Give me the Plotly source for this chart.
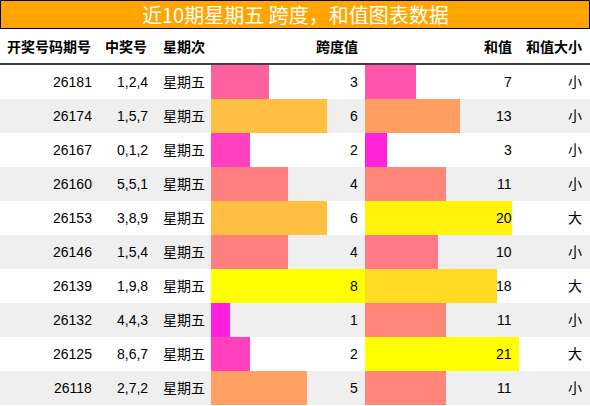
import plotly.graph_objects as go

periods = ["26181", "26174", "26167", "26160", "26153", "26146", "26139", "26132", "26125", "26118"]
numbers = ["1,2,4", "1,5,7", "0,1,2", "5,5,1", "3,8,9", "1,5,4", "1,9,8", "4,4,3", "8,6,7", "2,7,2"]
weekday = ["星期五"] * 10
span = [3, 6, 2, 4, 6, 4, 8, 1, 2, 5]
sums = [7, 13, 3, 11, 20, 10, 18, 11, 21, 11]
size = ["小", "小", "小", "小", "大", "小", "大", "小", "大", "小"]
headers = ["开奖号码期号", "中奖号", "星期次", "跨度值", "和值", "和值大小"]
title = "近10期星期五 跨度，和值图表数据"

W, H = 590, 406
FONT = "Liberation Sans, Arial, Noto Sans CJK SC, sans-serif"


def px(x):
    return x / W


def py(y):
    return 1 - y / H


def grad(v, vmax):
    t = v / vmax
    return "rgb(255,%d,%d)" % (round(255 * t), round(255 * (1 - t)))


rows = list(range(len(periods)))

fig = go.Figure()
fig.add_trace(go.Bar(
    x=span, y=rows, orientation="h", width=1,
    marker=dict(color=[grad(v, max(span)) for v in span], line=dict(width=0)),
    xaxis="x", yaxis="y", hoverinfo="skip", showlegend=False,
))
fig.add_trace(go.Bar(
    x=sums, y=rows, orientation="h", width=1,
    marker=dict(color=[grad(v, max(sums)) for v in sums], line=dict(width=0)),
    xaxis="x2", yaxis="y", hoverinfo="skip", showlegend=False,
))

shapes = []
for i in rows:
    if i % 2 == 1:
        shapes.append(dict(type="rect", xref="paper", yref="y", x0=0, x1=1,
                           y0=i - 0.5, y1=i + 0.5, fillcolor="#efefef",
                           line=dict(width=0), layer="below"))
# title bar
shapes.append(dict(type="rect", xref="paper", yref="paper", x0=px(0.5), x1=px(589.5),
                   y0=py(28.5), y1=py(0.5), fillcolor="#FFA500",
                   line=dict(color="black", width=1), layer="above"))
# header line
shapes.append(dict(type="line", xref="paper", yref="paper", x0=0, x1=1,
                   y0=py(64), y1=py(64), line=dict(color="black", width=1.5)))

ann = []
ann.append(dict(text=title, xref="paper", yref="paper", x=px(295), y=py(14.5),
                xanchor="center", yanchor="middle", showarrow=False,
                borderpad=0, borderwidth=0,
                font=dict(family="Noto Sans CJK SC, sans-serif", size=20, color="white")))

hx = [(91, "right"), (147, "right"), (163, "left"), (358, "right"), (512, "right"), (582, "right")]
for (x, anc), h in zip(hx, headers):
    ann.append(dict(text="<b>%s</b>" % h, xref="paper", yref="paper", x=px(x), y=py(47),
                    xanchor=anc, yanchor="middle", showarrow=False,
                    borderpad=0, borderwidth=0,
                    font=dict(family=FONT, size=14, color="black")))

cols = [(periods, 91.5, "right"), (numbers, 147.5, "right"), (weekday, 163, "left"),
        ([str(v) for v in span], 358, "right"), ([str(v) for v in sums], 512, "right"),
        (size, 582, "right")]
for vals, x, anc in cols:
    for i, v in enumerate(vals):
        ann.append(dict(text=v, xref="paper", yref="y", x=px(x), y=i,
                        xanchor=anc, yanchor="middle", showarrow=False,
                        borderpad=0, borderwidth=0,
                        font=dict(family=FONT, size=14, color="black")))

hidden = dict(visible=False, showgrid=False, zeroline=False, fixedrange=True)
fig.update_layout(
    width=W, height=H, margin=dict(l=0, r=0, t=0, b=0),
    paper_bgcolor="white", plot_bgcolor="rgba(0,0,0,0)",
    barmode="overlay", bargap=0,
    xaxis=dict(domain=[px(211), px(365)], range=[0, max(span)], anchor="y", **hidden),
    xaxis2=dict(domain=[px(365), px(519)], range=[0, max(sums)], anchor="y", **hidden),
    yaxis=dict(domain=[py(405), py(65)], range=[9.5, -0.5], anchor="x", **hidden),
    shapes=shapes, annotations=ann,
)

fig.write_html("out.html")
